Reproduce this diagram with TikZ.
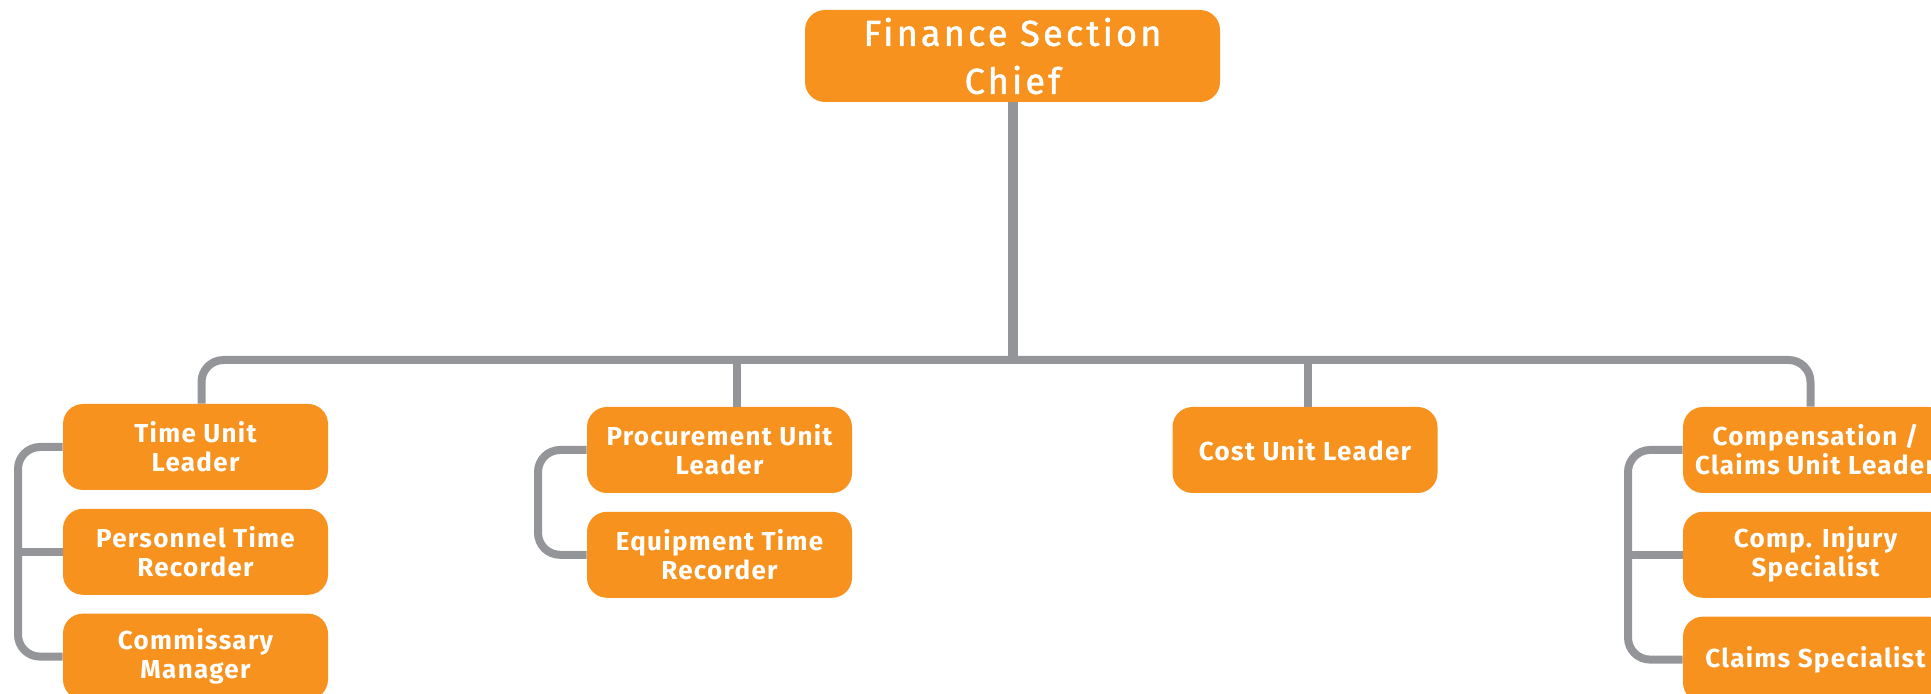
\documentclass[tikz,border=0pt]{standalone}
\usepackage{fontspec}
\setmainfont{Fira Sans}
\newfontfamily\unitfont{Fira Sans}[LetterSpace=5]
\newfontfamily\chieffont{Fira Sans}[LetterSpace=9, FakeBold=1.5]
\usetikzlibrary{positioning}

\definecolor{finorange}{RGB}{247,146,30}
\definecolor{linegrey}{RGB}{147,149,152}

\tikzstyle{link} = [draw=linegrey, line width=4pt, rounded corners=11pt]
\tikzstyle{unitbox} = [
        rectangle,
        rounded corners=10pt,
        minimum width=132.5pt,
        minimum height=43pt,
        inner sep=0pt,
        align=center,
        fill=finorange,
        text=white,
        font=\unitfont\fontsize{13}{14.5}\selectfont\bfseries
    ]
\tikzstyle{chiefbox} = [
        unitbox,
        minimum width=207.5pt,
        minimum height=46pt,
        font=\chieffont\fontsize{18}{24}\selectfont
    ]

\begin{document}
\begin{tikzpicture}[x=0.5pt, y=-0.5pt, node distance=9pt]
        \useasboundingbox (0,0) rectangle (1931,694);
        \node [chiefbox] (chief) at (1012.5,56) {Finance Section\\Chief};
        % units
        \node [unitbox] (time) at (195.5,447) {Time Unit\\Leader};
        \node [unitbox, below=of time] (personnel) {Personnel Time\\Recorder};
        \node [unitbox, below=of personnel] (commissary) {Commissary\\Manager};
        \node [unitbox] (procure) at (719.5,450) {Procurement Unit\\Leader};
        \node [unitbox, below=of procure] (equip) {Equipment Time\\Recorder};
        \node [unitbox] (cost) at (1305,450) {Cost Unit Leader};
        \node [unitbox] (comp) at (1815.5,450) {Compensation /\\Claims Unit Leader};
        \node [unitbox, below=of comp] (injury) {Comp. Injury\\Specialist};
        \node [unitbox, below=of injury] (claims) {Claims Specialist};
        % connectors
        \coordinate (bus) at (1012,360);
        \draw [link, line width=5pt] (chief.south) -- (chief.south |- bus);
        \draw [link] ([xshift=3pt]time.north) |- (bus) -| ([xshift=-2.5pt]comp.north);
        \coordinate (proctop) at ([xshift=8.5pt]procure.north);
        \draw [link] (proctop) -- (proctop |- bus);
        \coordinate (costtop) at ([xshift=1.5pt]cost.north);
        \draw [link] (costtop) -- (costtop |- bus);
        % brackets
        \coordinate (leftrail) at (18,0);
        \draw [link] (time.west) -| (leftrail |- commissary.west) -- (commissary.west);
        \draw [link] (personnel.west) -- (leftrail |- personnel.west);
        \coordinate (midrail) at (538,0);
        \draw [link] (procure.west) -| (midrail |- equip.west) -- (equip.west);
        \coordinate (rightrail) at (1628,0);
        \draw [link] (comp.west) -| (rightrail |- claims.west) -- (claims.west);
        \draw [link] (injury.west) -- (rightrail |- injury.west);
    \end{tikzpicture}
\end{document}
